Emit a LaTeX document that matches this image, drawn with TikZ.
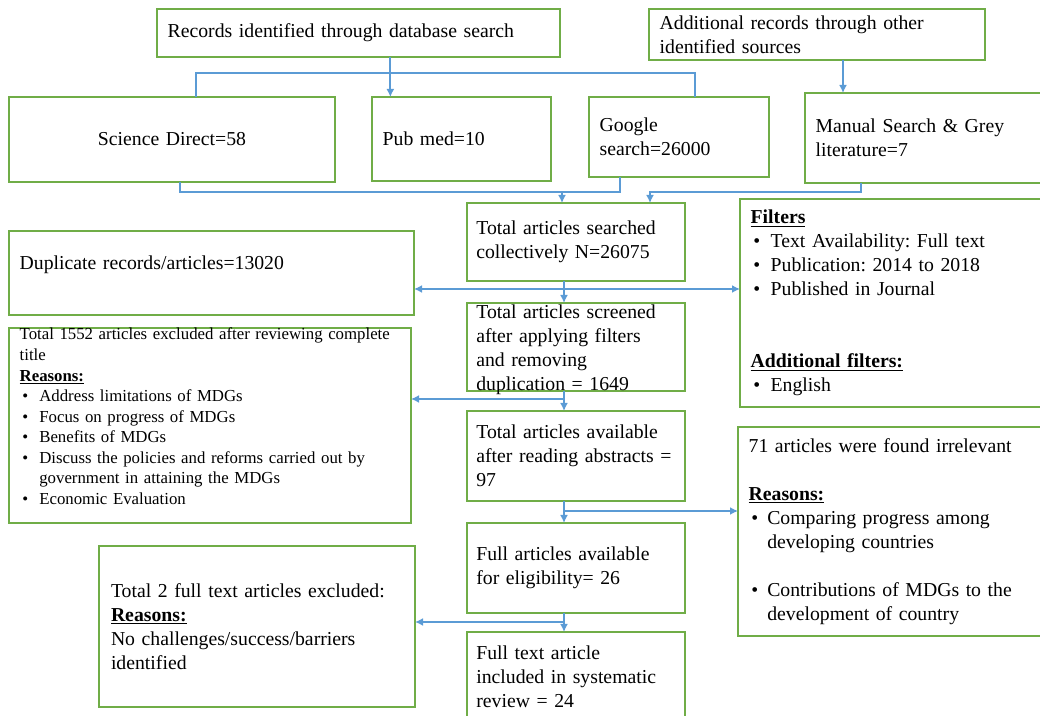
\documentclass[tikz,border=0pt]{standalone}
\usepackage{fontspec}
\setmainfont{Liberation Serif}
\usetikzlibrary{arrows.meta}
\usetikzlibrary{positioning,calc}

\definecolor{boxgreen}{HTML}{70AD47}
\definecolor{linkblue}{HTML}{5B9BD5}

\newcommand{\bul}[1][13pt]{\hspace*{2pt}\makebox[#1][l]{\textbullet}}
\newcommand{\bulcont}[1][13pt]{\hspace*{\dimexpr #1+2pt\relax}}
\newcommand{\hd}[1]{\underline{\textbf{#1}}}
\frenchspacing

\begin{document}
\begin{tikzpicture}[x=0.75pt, y=-0.75pt,
    stage/.style={draw=boxgreen, line width=1.6pt, anchor=north west, outer sep=0pt,
        inner xsep=8pt, inner ysep=0pt, align=left, font=\fontsize{14.8}{18}\selectfont},
    link/.style={draw=linkblue, line width=1.4pt},
    arr/.style={link, -{Latex[length=6pt,width=6pt]}}]
\useasboundingbox (0,0) rectangle (1040,716);

% identification
\node[stage, text width=286pt, minimum height=36pt]    (db)    at (157,9) {Records identified through database search};
\node[stage, text width=236pt, minimum height=38.25pt] (other) at (649,9) {Additional records through other\\identified sources};
\node[stage, text width=228.5pt, minimum height=63.75pt, align=center] (sd) at (9,97) {Science Direct=58};
\node[stage, text width=118pt, minimum height=63pt]    (pm)    at (372,97) {Pub med=10};
\node[stage, text width=119pt, minimum height=60pt]    (gs)    at (589,97) {Google\\search=26000};
\node[stage, text width=171.5pt, minimum height=67.5pt] (ms)   at (805,93) {Manual Search \& Grey\\literature=7};

% screening column
\node[stage, inner xsep=7pt, text width=149.5pt, minimum height=58.5pt] (total)  at (467,203) {Total articles searched\\collectively N=26075};
\node[stage, inner xsep=7pt, text width=149.5pt, text height=12pt, text depth=54pt] (screen) at (467,303)
    {Total articles screened\\after applying filters\\and removing\\duplication = 1649};
\node[stage, inner xsep=7pt, text width=149.5pt, minimum height=67.5pt] (abstr)  at (467,411) {Total articles available\\after reading abstracts =\\97};
\node[stage, inner xsep=7pt, text width=149.5pt, minimum height=67.5pt] (elig)   at (467,523) {Full articles available\\for eligibility= 26};
\node[stage, inner xsep=7pt, text width=149.5pt, minimum height=67.5pt] (incl)   at (467,632) {Full text article\\included in systematic\\review = 24};

% side boxes
\node[stage, text width=224pt, minimum height=156pt] (filters) at (740,199)
    {\hd{Filters}\\
     \bul Text Availability: Full text\\
     \bul Publication: 2014 to 2018\\
     \bul Published in Journal\\[36pt]
     \hd{Additional filters:}\\
     \bul English};
\node[stage, text width=287.75pt, text height=29.25pt, text depth=33.75pt] (dup) at (9,231) {Duplicate records/articles=13020};
\node[stage, text width=285.5pt, text height=9pt, text depth=137.25pt, font=\fontsize{12.6}{15.4}\selectfont] (title) at (9,328)
    {Total 1552 articles excluded after reviewing complete\\
     title\\
     \hd{Reasons:}\\
     \bul[12.75pt]Address limitations of MDGs\\
     \bul[12.75pt]Focus on progress of MDGs\\
     \bul[12.75pt]Benefits of MDGs\\
     \bul[12.75pt]Discuss the policies and reforms carried out by\\
     \bulcont[12.75pt]government in attaining the MDGs\\
     \bul[12.75pt]Economic Evaluation};
\node[stage, text width=224pt, minimum height=156.75pt] (irrel) at (738,427)
    {71 articles were found irrelevant\\[18pt]
     \hd{Reasons:}\\
     \bul[12pt]Comparing progress among\\
     \bulcont[12pt]developing countries\\[18pt]
     \bul[12pt]Contributions of MDGs to the\\
     \bulcont[12pt]development of country};
\node[stage, inner xsep=9pt, text width=219pt, minimum height=120.75pt] (fullex) at (99,546)
    {Total 2 full text articles excluded:\\
     \hd{Reasons:}\\
     No challenges/success/barriers\\
     identified};

% sources
\draw[arr] ($(db.south)+(32,0)$) coordinate (d1) -- (d1 |- pm.north);
\draw[link] ($(sd.north)+(24,0)$) |- ($(db.south)+(0,16)$) -| ($(gs.north)+(16,0)$);
\draw[arr] ($(other.south)+(26,0)$) coordinate (o1) -- (o1 |- ms.north);
\draw[link] ($(sd.south)+(8,0)$) |- ($(gs.south)+(-59,15)$) -- ($(gs.south)+(-59,0)$);
\draw[arr] ($(total.north)+(-14,-11)$) -- ($(total.north)+(-14,0)$);
\draw[arr] ($(ms.south west)+(56,0)$) |- ($(total.north)+(74,-11)$) -- ($(total.north)+(74,0)$);

% down the column
\draw[arr] ($(total.south)+(-12,0)$) -- ($(screen.north)+(-12,0)$);
\coordinate (s1) at ($(total.south)+(-12,8)$);
\draw[arr] (s1) -- (s1 -| dup.east);
\draw[arr] (s1) -- (s1 -| filters.west);

\draw[arr] ($(screen.south)+(-12,0)$) -- ($(abstr.north)+(-12,0)$);
\coordinate (s2) at ($(screen.south)+(-12,8)$);
\draw[arr] (s2) -- (s2 -| title.east);

\draw[arr] ($(abstr.south)+(-12,0)$) -- ($(elig.north)+(-12,0)$);
\coordinate (s3) at ($(abstr.south)+(-12,10)$);
\draw[arr] (s3) -- (s3 -| irrel.west);

\draw[arr] ($(elig.south)+(-12,0)$) -- ($(incl.north)+(-12,0)$);
\coordinate (s4) at ($(elig.south)+(-12,9)$);
\draw[arr] (s4) -- (s4 -| fullex.east);
\end{tikzpicture}
\end{document}
